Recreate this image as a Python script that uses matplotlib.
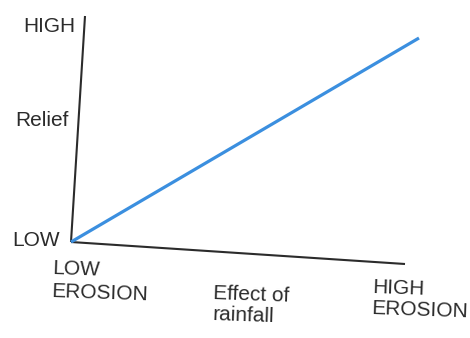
import matplotlib.pyplot as plt
from matplotlib.transforms import Affine2D

# conceptual data: erosion (x) and relief (y), 0 = low, 1 = high
erosion = [0, 1]
relief = [0, 1]
y_labels = ["LOW", "HIGH"]
x_labels = ["LOW\nEROSION", "HIGH\nEROSION"]

plt.rcParams["font.family"] = ["Liberation Sans", "DejaVu Sans"]

fig = plt.figure(figsize=(4.7, 3.38), dpi=100)
ax = fig.add_axes([0, 0, 1, 1])
ax.set_xlim(0, 470)
ax.set_ylim(338, 0)
ax.axis("off")

# skewed axes, as in the hand-drawn scan
skew = Affine2D().from_values(334, 22, 14, -226, 71, 242) + ax.transData

ink = "#2b2b2b"
ax.plot([0, 0], [0, 1], color=ink, lw=1.5, transform=skew, solid_capstyle="butt")
ax.plot([0, 1], [0, 0], color=ink, lw=1.5, transform=skew, solid_capstyle="butt")
ax.plot(erosion, relief, color="#3b8fdf", lw=2.3, transform=skew, solid_capstyle="butt")

fs = 15
ax.text(49, 26, y_labels[1], fontsize=fs, color=ink, ha="center", va="center")
ax.text(42, 121, "Relief", fontsize=fs, color=ink, ha="center", va="center")
ax.text(36, 240, y_labels[0], fontsize=fs, color=ink, ha="center", va="center")
ax.text(52, 280, x_labels[0], fontsize=fs, color=ink, ha="left", va="center",
        rotation=-2, linespacing=1.3, rotation_mode="anchor")
ax.text(213, 304, "Effect of\nrainfall", fontsize=fs, color=ink, ha="left", va="center",
        rotation=-2, linespacing=1.15, rotation_mode="anchor")
ax.text(372, 298, x_labels[1], fontsize=fs, color=ink, ha="left", va="center",
        rotation=-2, linespacing=1.2, rotation_mode="anchor")

fig.savefig("out.png", dpi=100)
